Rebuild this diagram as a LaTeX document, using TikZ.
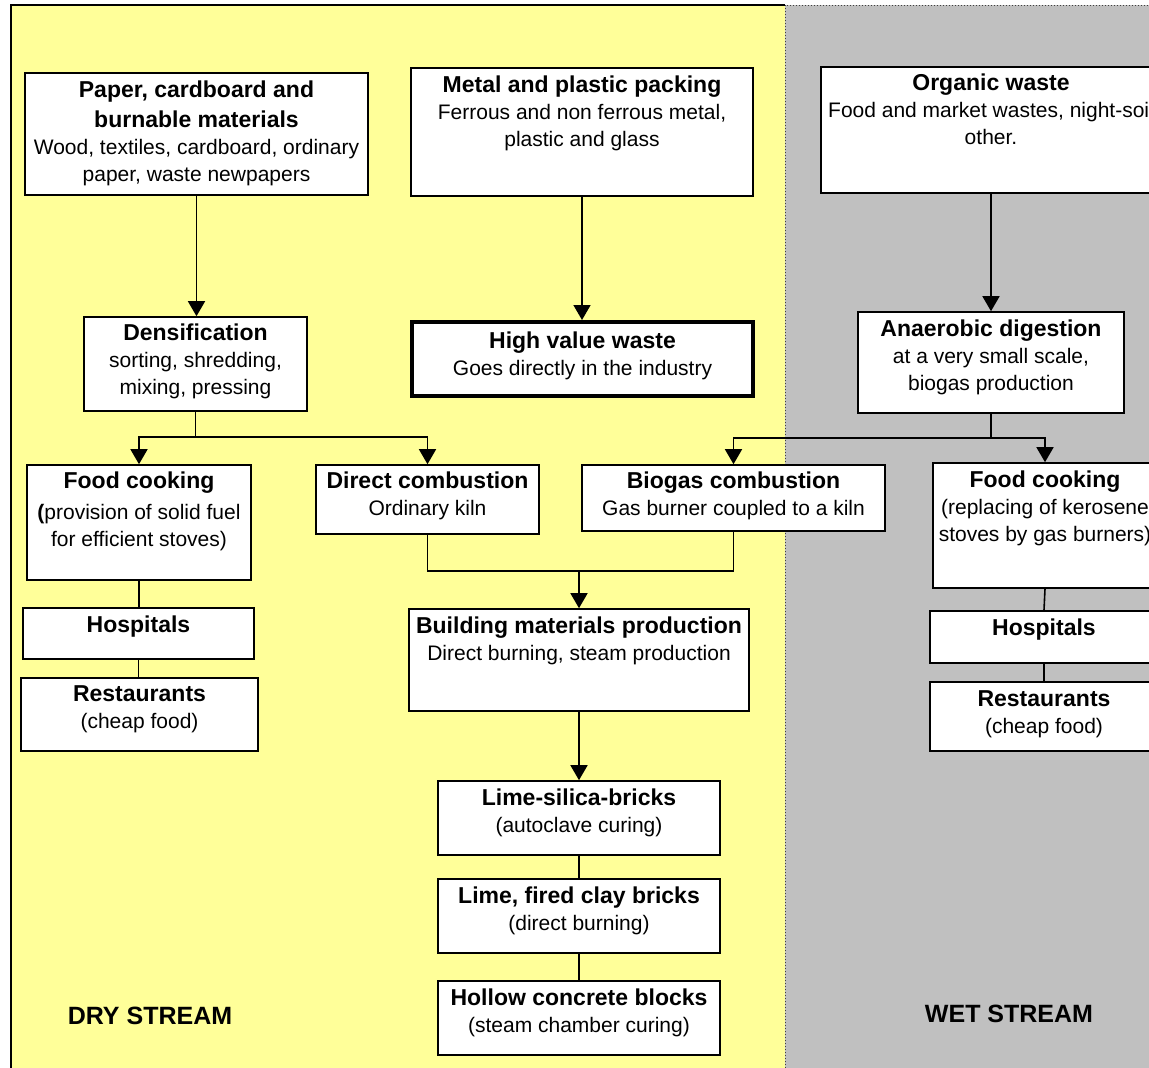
\documentclass[tikz,border=0pt]{standalone}
\usepackage{fontspec}
\setmainfont{Liberation Sans}
\usetikzlibrary{arrows.meta}
\definecolor{dryyellow}{RGB}{255,255,153}
\definecolor{wetgray}{RGB}{192,192,192}
\newcommand\hd[1]{{\fontsize{23}{27}\selectfont\bfseries #1}}
\tikzset{
  box/.style={draw=black, line width=1.6pt, fill=white, rectangle, inner sep=0pt},
  thickbox/.style={box, line width=4pt},
  txt/.style={anchor=north, align=center, inner sep=0pt, font=\fontsize{21}{27}\selectfont},
  conn/.style={line width=1.6pt},
  arr/.style={conn, -{Triangle[length=15pt,width=17pt]}},
  streamlabel/.style={inner sep=0pt, font=\fontsize{25}{30}\selectfont\bfseries}
}
\begin{document}
\begin{tikzpicture}[x=1pt,y=-1pt]
\useasboundingbox (0,0) rectangle (1149,1068);
\clip (0,0) rectangle (1149,1068);
\fill[white] (0,0) rectangle (1149,1068);
% backgrounds
\fill[dryyellow] (11,5) rectangle (785,1080);
\draw[line width=1.6pt] (11,1080) -- (11,5) -- (785,5);
\fill[wetgray] (785,5) rectangle (1170,1080);
\draw[dotted, line width=1pt, black!75] (785,1080) -- (785,5) -- (1170,5);

% boxes
\node[box, minimum width=343pt, minimum height=122pt] (paper) at (196.5,134) {};
\node[box, minimum width=342pt, minimum height=128pt] (metal) at (582,132) {};
\node[box, minimum width=340pt, minimum height=126pt] (organic) at (991,130) {};
\node[box, minimum width=223pt, minimum height=94pt] (dens) at (195.5,364) {};
\node[thickbox, minimum width=341pt, minimum height=74pt] (high) at (582.5,359) {};
\node[box, minimum width=266pt, minimum height=101pt] (anaer) at (991,362.5) {};
\node[box, minimum width=224pt, minimum height=115pt] (fcd) at (139,522.5) {};
\node[box, minimum width=223pt, minimum height=69pt] (dc) at (427.5,499.5) {};
\node[box, minimum width=303pt, minimum height=66pt] (bg) at (733.5,498) {};
\node[box, minimum width=224pt, minimum height=125pt] (fcw) at (1045,525.5) {};
\node[box, minimum width=231pt, minimum height=51pt] (hdry) at (138.5,633.5) {};
\node[box, minimum width=237pt, minimum height=73pt] (rdry) at (139.5,714.5) {};
\node[box, minimum width=340pt, minimum height=102pt] (bmp) at (579,660) {};
\node[box, minimum width=228pt, minimum height=52pt] (hwet) at (1044,637) {};
\node[box, minimum width=228pt, minimum height=69pt] (rwet) at (1044,716.5) {};
\node[box, minimum width=282pt, minimum height=74pt] (ls) at (579,818) {};
\node[box, minimum width=282pt, minimum height=74pt] (lf) at (579,916) {};
\node[box, minimum width=282pt, minimum height=74pt] (hc) at (579,1018) {};

% texts
\node[txt] (paper-t) at (196.5,81) {\hd{Paper, cardboard and}\\[3pt]\hd{burnable materials}\\Wood, textiles, cardboard, ordinary\\paper, waste newpapers};
\node[txt] (metal-t) at (582,76) {\hd{Metal and plastic packing}\\Ferrous and non ferrous metal,\\plastic and glass};
\node[txt] (organic-t) at (991,74) {\hd{Organic waste}\\Food and market wastes, night-soil\\other.};
\node[txt] (dens-t) at (195.5,324) {\hd{Densification}\\sorting, shredding,\\mixing, pressing};
\node[txt] (high-t) at (582.5,332) {\hd{High value waste}\\Goes directly in the industry};
\node[txt] (anaer-t) at (991,320) {\hd{Anaerobic digestion}\\at a very small scale,\\biogas production};
\node[txt] (fcd-t) at (139,472) {\hd{Food cooking}\\[4pt]\textbf{(}provision of solid fuel\\for efficient stoves)};
\node[txt] (dc-t) at (427.5,472) {\hd{Direct combustion}\\Ordinary kiln};
\node[txt] (bg-t) at (733.5,472) {\hd{Biogas combustion}\\Gas burner coupled to a kiln};
\node[txt] (fcw-t) at (1045,471) {\hd{Food cooking}\\(replacing of kerosene\\stoves by gas burners)};
\node[txt] (hdry-t) at (138.5,616) {\hd{Hospitals}};
\node[txt] (rdry-t) at (139.5,685) {\hd{Restaurants}\\(cheap food)};
\node[txt] (bmp-t) at (579,617) {\hd{Building materials production}\\Direct burning, steam production};
\node[txt] (hwet-t) at (1044,619) {\hd{Hospitals}};
\node[txt] (rwet-t) at (1044,690) {\hd{Restaurants}\\(cheap food)};
\node[txt] (ls-t) at (579,789) {\hd{Lime-silica-bricks}\\(autoclave curing)};
\node[txt] (lf-t) at (579,887) {\hd{Lime, fired clay bricks}\\(direct burning)};
\node[txt] (hc-t) at (579,989) {\hd{Hollow concrete blocks}\\(steam chamber curing)};

\node[streamlabel] (dry) at (150,1016) {DRY STREAM};
\node[streamlabel] (wet) at (1009,1014) {WET STREAM};

% connectors
\draw[arr] (paper.south) -- (paper.south |- dens.north);
\draw[arr] (metal.south) -- (metal.south |- high.north);
\draw[arr] (organic.south) -- (organic.south |- anaer.north);

\coordinate (dsplit) at (195.5,437);
\draw[conn] (dens.south) -- (dsplit);
\draw[arr] (dsplit) -| (fcd.north);
\draw[arr] (dsplit) -| (dc.north);

\coordinate (asplit) at (991,438);
\draw[conn] (anaer.south) -- (asplit);
\draw[arr] (asplit) -| (bg.north);
\draw[arr] (asplit) -| (fcw.north);

\coordinate (join) at (579,571);
\draw[conn] (dc.south) |- (join);
\draw[conn] (bg.south) |- (join);
\draw[arr] (join) -- (bmp.north);

\draw[arr] (bmp.south) -- (ls.north);
\draw[conn] (ls.south) -- (lf.north);
\draw[conn] (lf.south) -- (hc.north);

\draw[conn] (fcd.south) -- (fcd.south |- hdry.north);
\draw[conn] (hdry.south) -- (hdry.south |- rdry.north);
\draw[conn] (fcw.south) -- (hwet.north);
\draw[conn] (hwet.south) -- (rwet.north);
\end{tikzpicture}
\end{document}
